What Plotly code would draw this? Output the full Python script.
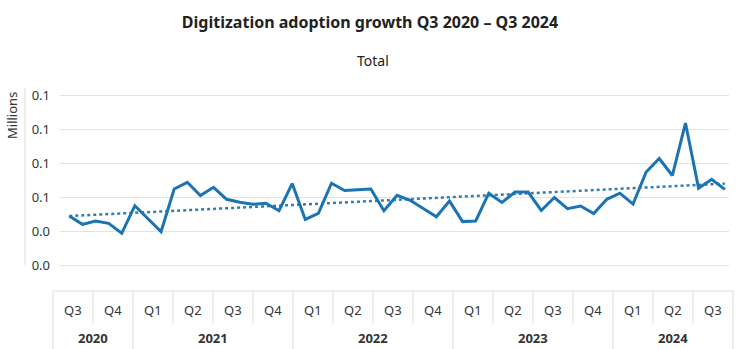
import numpy as np
import plotly.graph_objects as go

# Monthly totals (millions), Aug 2020 – Sep 2024
months = [
    "2020-08", "2020-09", "2020-10", "2020-11", "2020-12",
    "2021-01", "2021-02", "2021-03", "2021-04", "2021-05", "2021-06",
    "2021-07", "2021-08", "2021-09", "2021-10", "2021-11", "2021-12",
    "2022-01", "2022-02", "2022-03", "2022-04", "2022-05", "2022-06",
    "2022-07", "2022-08", "2022-09", "2022-10", "2022-11", "2022-12",
    "2023-01", "2023-02", "2023-03", "2023-04", "2023-05", "2023-06",
    "2023-07", "2023-08", "2023-09", "2023-10", "2023-11", "2023-12",
    "2024-01", "2024-02", "2024-03", "2024-04", "2024-05", "2024-06",
    "2024-07", "2024-08", "2024-09", "2024-10",
]
totals = [
    0.0360, 0.0299, 0.0324, 0.0306, 0.0233,
    0.0436, 0.0340, 0.0245, 0.0559, 0.0608, 0.0510,
    0.0571, 0.0483, 0.0461, 0.0446, 0.0454, 0.0399,
    0.0599, 0.0335, 0.0380, 0.0601, 0.0548, 0.0554,
    0.0559, 0.0399, 0.0513, 0.0476, 0.0415, 0.0355,
    0.0470, 0.0319, 0.0324, 0.0528, 0.0460, 0.0536,
    0.0536, 0.0401, 0.0496, 0.0414, 0.0434, 0.0378,
    0.0483, 0.0528, 0.0448, 0.0684, 0.0783, 0.0658,
    0.1044, 0.0564, 0.0630, 0.0556,
]

# Quarter grid for the category table under the chart
quarter_labels = ["Q3", "Q4",
                  "Q1", "Q2", "Q3", "Q4",
                  "Q1", "Q2", "Q3", "Q4",
                  "Q1", "Q2", "Q3", "Q4",
                  "Q1", "Q2", "Q3"]
years = ["2020", "2021", "2022", "2023", "2024"]
quarters_per_year = [2, 4, 4, 4, 3]

y_ticks = [0.0, 0.025, 0.05, 0.075, 0.10, 0.125]

LINE = "#1a74b3"
TREND = "#2f7db3"
GRID = "#e3e3e3"
FRAME = "#dcdcdc"
TEXT = "#333333"
FONT = "Noto Sans"

W, H = 740, 349
ML, MR, MT, MB = 53, 7, 88, 0
plot_h = H - MT - MB
plot_w = W - ML - MR

def py(px):
    """Pixel row -> paper y."""
    return (H - MB - px) / plot_h

def pxx(px):
    """Pixel column -> paper x."""
    return (px - ML) / plot_w

idx = np.arange(len(totals))
slope, intercept = np.polyfit(idx, np.array(totals), 1)
trend = slope * idx + intercept

fig = go.Figure()
fig.add_trace(go.Scatter(
    x=idx, y=trend, mode="lines",
    line=dict(color=TREND, width=2.5, dash="dot"),
    hoverinfo="skip", showlegend=False,
))
fig.add_trace(go.Scatter(
    x=idx, y=totals, mode="lines", text=months,
    line=dict(color=LINE, width=3),
    showlegend=False,
))

n_q = len(quarter_labels)
shapes = []
annotations = []

# table frame: top rule, quarter separators, year separators
shapes.append(dict(type="line", xref="paper", yref="paper",
                   x0=0, x1=1, y0=py(291), y1=py(291),
                   line=dict(color=FRAME, width=1)))
year_edges = np.concatenate([[0], np.cumsum(quarters_per_year)])
for i in range(n_q + 1):
    is_year = i in year_edges
    shapes.append(dict(type="line", xref="paper", yref="paper",
                       x0=i / n_q, x1=i / n_q,
                       y0=py(291), y1=0 if is_year else py(323),
                       line=dict(color=FRAME, width=1)))

for i, q in enumerate(quarter_labels):
    annotations.append(dict(x=(i + 0.5) / n_q, y=py(310), xref="paper", yref="paper",
                            text=q, showarrow=False, xanchor="center", yanchor="middle",
                            font=dict(family=FONT, size=13, color=TEXT)))
for j, yr in enumerate(years):
    mid = (year_edges[j] + year_edges[j + 1]) / 2
    annotations.append(dict(x=mid / n_q, y=py(338), xref="paper", yref="paper",
                            text=f"<b>{yr}</b>", showarrow=False,
                            xanchor="center", yanchor="middle",
                            font=dict(family=FONT, size=13, color=TEXT)))

# left rule beside the value axis
shapes.append(dict(type="line", xref="paper", yref="paper",
                   x0=pxx(25), x1=pxx(25),
                   y0=py(265), y1=py(88), line=dict(color=FRAME, width=1)))

annotations.append(dict(x=pxx(12), y=py(116), xref="paper", yref="paper",
                        text="Millions", showarrow=False, textangle=-90,
                        xanchor="center", yanchor="middle",
                        font=dict(family=FONT, size=13, color=TEXT)))
annotations.append(dict(x=pxx(373), y=py(60), xref="paper", yref="paper",
                        text="Total", showarrow=False, xanchor="center", yanchor="middle",
                        font=dict(family=FONT, size=14, color="#222222")))

px_per_pt = 13.11
x_lo = -(69.3 - 60) / px_per_pt
x_hi = (len(totals) - 1) + (729 - 724.8) / px_per_pt
px_per_unit = 34 / 0.025

fig.update_layout(
    width=W, height=H,
    margin=dict(l=ML, r=MR, t=MT, b=MB, pad=0, autoexpand=False),
    paper_bgcolor="white", plot_bgcolor="white",
    title=dict(text="<b>Digitization adoption growth Q3 2020 – Q3 2024</b>",
               x=0.5, xanchor="center", y=1 - 22 / H, yanchor="middle",
               font=dict(family=FONT, size=16, color="#222222")),
    xaxis=dict(domain=[pxx(60), pxx(729)], automargin=False,
               range=[x_lo, x_hi], visible=False, fixedrange=True),
    yaxis=dict(domain=[py(265), 1], range=[0, (265 - 88) / px_per_unit],
               automargin=False,
               tickvals=y_ticks, tickformat=".1f",
               showgrid=True, gridcolor=GRID, gridwidth=1,
               zeroline=True, zerolinecolor=GRID, zerolinewidth=1,
               showline=False, ticks="", ticklabelstandoff=9,
               tickfont=dict(family=FONT, size=13, color=TEXT), fixedrange=True),
    shapes=shapes,
    annotations=annotations,
    font=dict(family=FONT),
)

fig.write_html("out.html")
